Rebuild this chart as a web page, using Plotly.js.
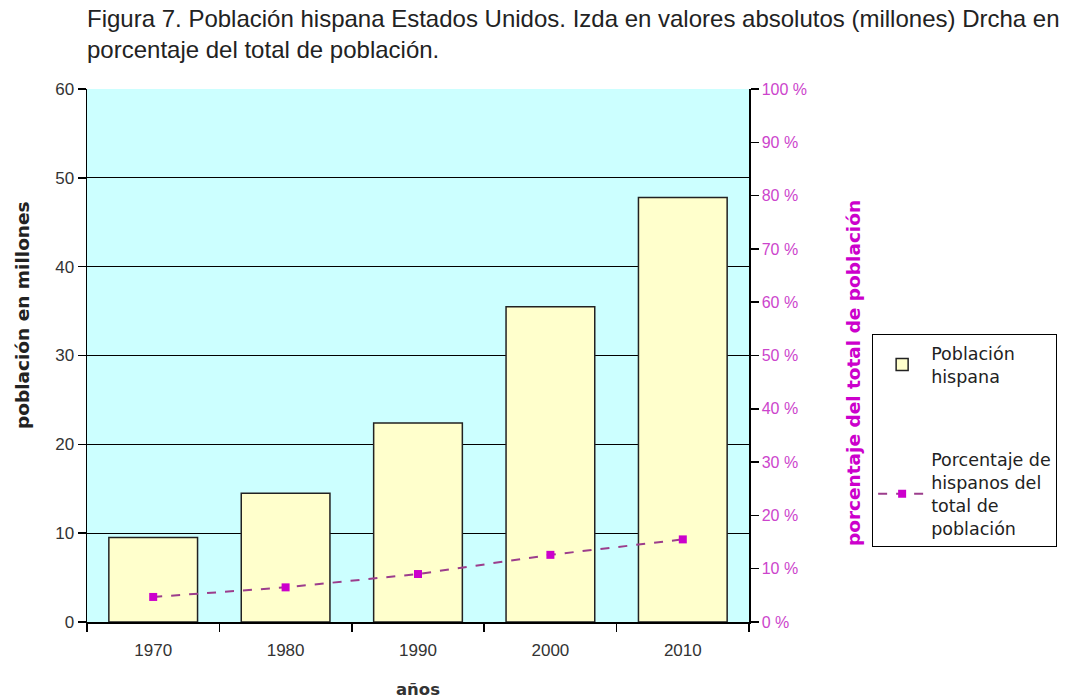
<!DOCTYPE html>
<html>
<head>
<meta charset="utf-8">
<script src="https://cdn.plot.ly/plotly-3.0.1.min.js"></script>
<style>html,body{margin:0;padding:0;background:#fff;}#chart{width:1072px;height:699px;}</style>
</head>
<body>
<div id="chart"></div>
<script>
const years = ["1970", "1980", "1990", "2000", "2010"];
const poblacionMillones = [9.5, 14.5, 22.4, 35.5, 47.8];
const porcentajeHispanos = [4.7, 6.5, 9.0, 12.6, 15.5];
const pctTickVals = [0, 10, 20, 30, 40, 50, 60, 70, 80, 90, 100];
const pctTickText = pctTickVals.map(v => v + " %");
const leftTitle = "población en millones";
const rightTitle = "porcentaje del total de población";

const barTrace = {
  type: "bar",
  x: years,
  y: poblacionMillones,
  name: "Población<br>hispana",
  legendgroup: "a",
  marker: { color: "#FFFFCC", line: { color: "#222222", width: 1.5 } },
  yaxis: "y"
};
const lineTrace = {
  type: "scatter",
  mode: "lines+markers",
  x: years,
  y: porcentajeHispanos,
  name: "Porcentaje de<br>hispanos del<br>total de<br>población",
  legendgroup: "b",
  line: { color: "#9C3D8C", width: 2, dash: "dash" },
  marker: { symbol: "square", size: 8, color: "#CC00CC" },
  yaxis: "y2"
};

const baseFont = "Liberation Sans, Arial, sans-serif";
const boldFont = "DejaVu Sans, Verdana, sans-serif";
const layout = {
  width: 1072, height: 699,
  paper_bgcolor: "#FFFFFF",
  plot_bgcolor: "#CCFFFF",
  margin: { l: 87, r: 323, t: 89, b: 77 },
  font: { family: baseFont, size: 17, color: "#333333" },
  title: {
    text: "Figura 7. Población hispana Estados Unidos. Izda en valores absolutos (millones) Drcha en<br>porcentaje del total de población.",
    font: { family: baseFont, size: 24, color: "#222222" },
    x: 0, xref: "paper", xanchor: "left",
    y: 0.962, yref: "container", yanchor: "top",
    pad: { l: 0 }
  },
  bargap: 0.33,
  showlegend: true,
  legend: {
    x: 1.186, xanchor: "left", y: 0.54, yanchor: "top",
    bgcolor: "#FFFFFF", bordercolor: "#000000", borderwidth: 1,
    font: { family: boldFont, size: 17.5, color: "#222222" },
    traceorder: "grouped",
    tracegroupgap: 58,
    itemwidth: 48
  },
  xaxis: {
    type: "category",
    tickson: "boundaries",
    ticks: "outside", ticklen: 8, tickcolor: "#000000", tickwidth: 1.5,
    ticklabelstandoff: 12,
    showline: true, linecolor: "#000000", linewidth: 1.5,
    showgrid: false,
    tickfont: { family: baseFont, size: 17, color: "#333333" },
    title: { text: "<b>años</b>", font: { family: boldFont, size: 16.5, color: "#333333" }, standoff: 24 }
  },
  yaxis: {
    range: [0, 60],
    dtick: 10,
    ticks: "outside", ticklen: 8, tickcolor: "#000000", tickwidth: 1.5,
    showline: true, linecolor: "#000000", linewidth: 1.5,
    showgrid: true, gridcolor: "#000000", gridwidth: 1.2,
    zeroline: false,
    tickfont: { family: baseFont, size: 17, color: "#333333" }
  },
  yaxis2: {
    overlaying: "y",
    side: "right",
    range: [0, 100],
    tickvals: pctTickVals,
    ticktext: pctTickText,
    ticks: "outside", ticklen: 8, tickcolor: "#000000", tickwidth: 1.5,
    showline: true, linecolor: "#000000", linewidth: 1.5,
    showgrid: false, zeroline: false,
    tickfont: { family: baseFont, size: 16, color: "#CC44CC" }
  },
  annotations: [
    {
      text: "<b>" + leftTitle + "</b>", textangle: -90, showarrow: false,
      xref: "paper", yref: "paper", x: -0.0967, y: 0.576, xanchor: "center", yanchor: "middle",
      font: { family: boldFont, size: 18.5, color: "#222222" }
    },
    {
      text: "<b>" + rightTitle + "</b>", textangle: -90, showarrow: false,
      xref: "paper", yref: "paper", x: 1.157, y: 0.467, xanchor: "center", yanchor: "middle",
      font: { family: boldFont, size: 18.5, color: "#CC00CC" }
    }
  ]
};

Plotly.newPlot("chart", [barTrace, lineTrace], layout, { displayModeBar: false, staticPlot: true });
</script>
</body>
</html>
